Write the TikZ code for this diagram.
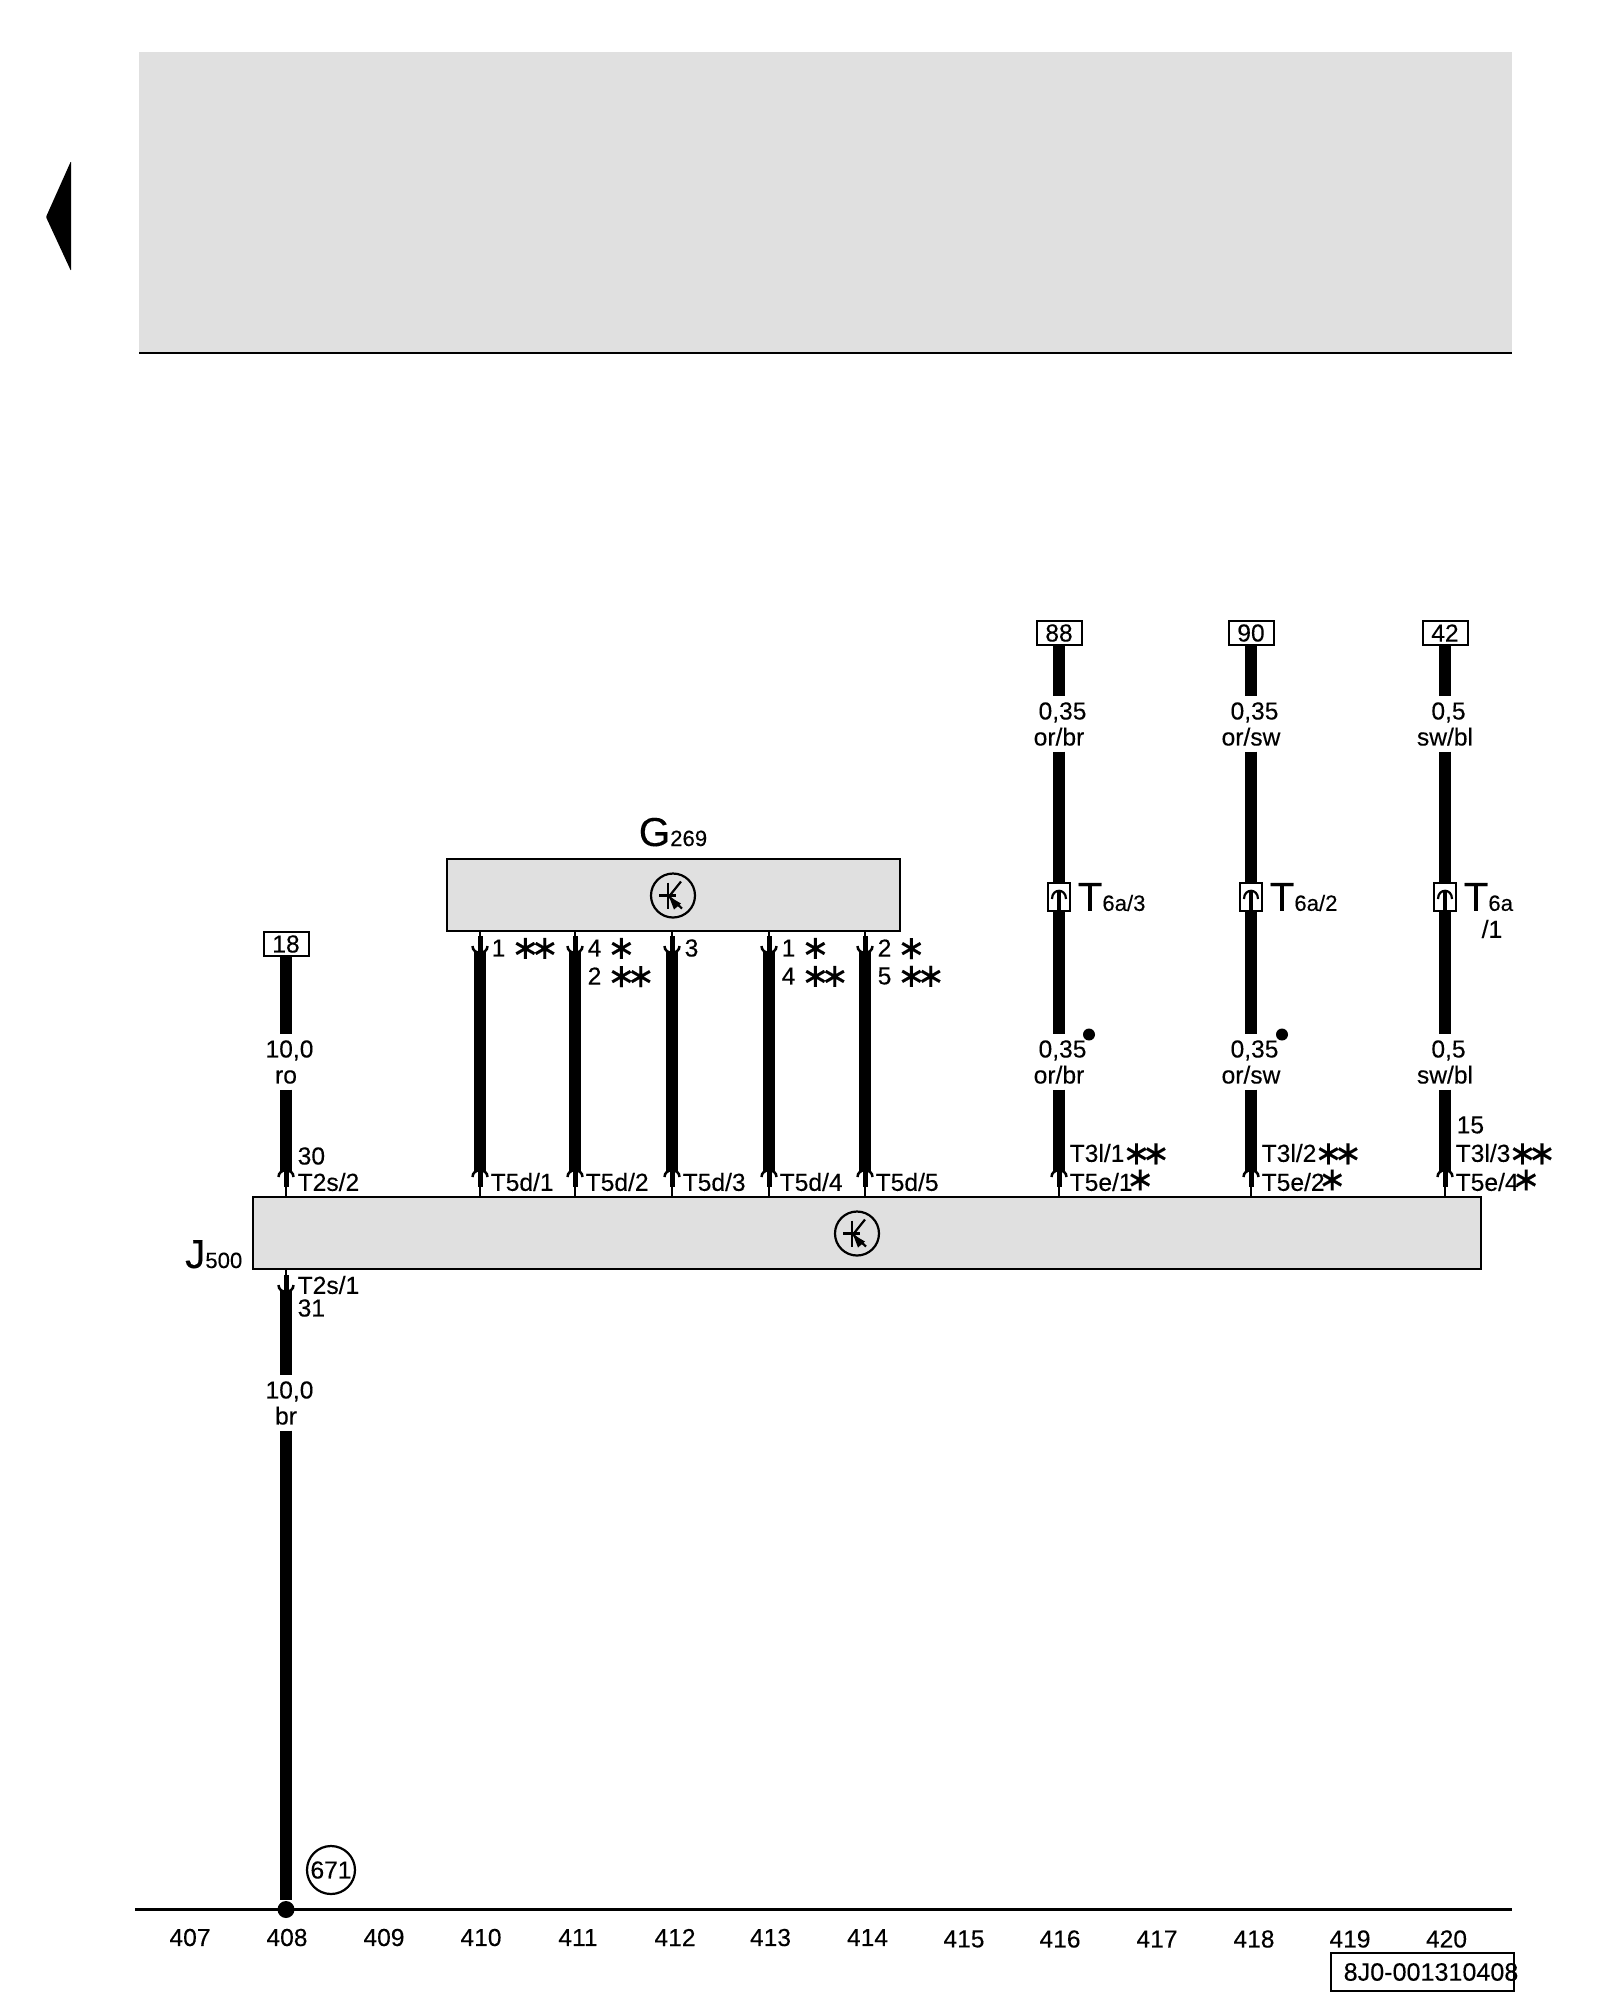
\documentclass[tikz,border=0pt]{standalone}
\usepackage{fontspec}
\setmainfont{Liberation Sans}[FakeBold=0.2]
\newfontfamily\starfont{DejaVu Sans}[FakeBold=0.2]
\usetikzlibrary{calc}
\newcommand{\bigname}[2]{{\fontsize{11.5}{12}\selectfont #1}{\fontsize{6.3}{8}\selectfont #2}}
\newcommand{\stars}{\smash{\raisebox{-0.7pt}{\makebox[5.5pt]{\starfont\fontsize{9.5}{10}\selectfont ∗}}}}
\tikzstyle{lbl}=[font=\fontsize{7}{7.4}\selectfont, inner sep=0pt, anchor=west]
\tikzstyle{gauge}=[font=\fontsize{7}{7.4}\selectfont, inner sep=0pt, align=center, minimum height=5.4mm]
\tikzstyle{colnum}=[font=\fontsize{7}{8}\selectfont, inner sep=0pt]
\tikzstyle{part}=[draw, fill=black!12, line width=0.2mm, inner sep=0pt]
\tikzstyle{term}=[draw, line width=0.2mm, font=\fontsize{7}{8}\selectfont, inner sep=0pt, minimum width=4.5mm, minimum height=2.4mm]
\tikzstyle{plug}=[draw, fill=white, line width=0.2mm, inner sep=0pt, minimum width=2.2mm, minimum height=2.8mm]
\tikzstyle{wire}=[line width=1.25mm]
\tikzstyle{lead}=[line width=0.22mm]
\tikzstyle{symcircle}=[draw, circle, line width=0.22mm, inner sep=0pt, minimum size=4.4mm]
\tikzset{
  pinup/.pic={
    \draw[line width=0.25mm] (-7.5,6) .. controls (-7.5,-3) and (7.5,-3) .. (7.5,6);
    \draw[line width=0.5mm] (0,0) -- (0,16);
  },
  pindown/.pic={
    \draw[line width=0.25mm] (-7.5,-6) .. controls (-7.5,3) and (7.5,3) .. (7.5,-6);
    \draw[line width=0.5mm] (0,0) -- (0,-16);
  },
  plugmark/.pic={
    \draw[lead] (-7,2) .. controls (-7,-9) and (7,-9) .. (7,2);
    \draw[line width=0.35mm] (0,-5) -- (0,14);
  },
  sensmark/.pic={
    \draw[lead] (-14,0) -- (3,0);
    \draw[lead] (-5,-13) -- (-5,13);
    \draw[lead] (-4,1) -- (8,-14);
    \draw[lead] (-4,1) -- (9,13);
    \fill (-4,1) -- (8,8) -- (1,14) -- cycle;
  }
}
\begin{document}
\begin{tikzpicture}[x=0.1mm,y=-0.1mm]
\useasboundingbox (0,0) rectangle (1600,2000);
% header
\fill[black!12] (139,52) rectangle (1512,353);
\coordinate (HeadL) at (139,353);
\coordinate (HeadR) at (1512,353);
\draw[lead] (HeadL) -- (HeadR);
\fill[rounded corners=0.3pt] (46,217) -- (71,161) -- (71,271) -- cycle;
% parts
\node[part, minimum width=45.3mm, minimum height=7.25mm] at (673,895) (G269) {};
\node[part, minimum width=122.8mm, minimum height=7.25mm] at (867,1233) (J500) {};
\node[symcircle] at (673,895.5) (SymG) {};
\node[symcircle] at (857,1233.5) (SymJ) {};
\pic at (SymG) {sensmark};
\pic at (SymJ) {sensmark};
\node[inner sep=0pt, anchor=base] at (673,846) (NameG) {\bigname{G}{269}};
\node[inner sep=0pt, anchor=base east] at (243,1268) (NameJ) {\bigname{J}{500}};
% terminals
\node[term] at (286,944) (Term18) {18};
\node[term] at (1059,633) (Term88) {88};
\node[term] at (1251,633) (Term90) {90};
\node[term] at (1445,633) (Term42) {42};
% gauges
\node[gauge] at (286,1062) (Ga18) {\hspace*{2pt}10,0\\ro};
\node[gauge] at (286,1403) (Ga31) {\hspace*{2pt}10,0\\br};
\node[gauge] at (1059,724) (Ga88a) {\hspace*{2pt}0,35\\or/br};
\node[gauge] at (1059,1062) (Ga88b) {\hspace*{2pt}0,35\\or/br};
\node[gauge] at (1251,724) (Ga90a) {\hspace*{2pt}0,35\\or/sw};
\node[gauge] at (1251,1062) (Ga90b) {\hspace*{2pt}0,35\\or/sw};
\node[gauge] at (1445,724) (Ga42a) {\hspace*{2pt}0,5\\sw/bl};
\node[gauge] at (1445,1062) (Ga42b) {\hspace*{2pt}0,5\\sw/bl};
% plugs
\node[plug] at (1059,897) (Plug3) {};
\node[plug] at (1251,897) (Plug2) {};
\node[plug] at (1445,897) (Plug1) {};
% pins
\coordinate (UpA) at (286,1171);
\coordinate (Up1) at (480,1171);
\coordinate (Up2) at (575,1171);
\coordinate (Up3) at (672,1171);
\coordinate (Up4) at (769,1171);
\coordinate (Up5) at (865,1171);
\coordinate (Up88) at (1059,1171);
\coordinate (Up90) at (1251,1171);
\coordinate (Up42) at (1445,1171);
\coordinate (Dn1) at (480,952);
\coordinate (Dn2) at (575,952);
\coordinate (Dn3) at (672,952);
\coordinate (Dn4) at (769,952);
\coordinate (Dn5) at (865,952);
\coordinate (DnA) at (286,1291);
\node[circle, fill, inner sep=0pt, minimum size=1.7mm] at (286,1909.5) (Earth) {};
\node[draw, circle, line width=0.22mm, inner sep=0pt, minimum size=4.8mm, font=\fontsize{7}{8}\selectfont] at (331,1870) (Num671) {671};
% wires
\draw[wire] (Term18) -- (Ga18);
\draw[wire] (Ga18) -- (UpA);
\draw[wire] (DnA) -- (Ga31);
\draw[wire] (Ga31) -- (Earth);
\draw[wire] (Dn1) -- (Up1);
\draw[wire] (Dn2) -- (Up2);
\draw[wire] (Dn3) -- (Up3);
\draw[wire] (Dn4) -- (Up4);
\draw[wire] (Dn5) -- (Up5);
\draw[wire] (Term88) -- (Ga88a);
\draw[wire] (Ga88a) -- (Plug3);
\draw[wire] (Plug3) -- (Ga88b);
\draw[wire] (Ga88b) -- (Up88);
\draw[wire] (Term90) -- (Ga90a);
\draw[wire] (Ga90a) -- (Plug2);
\draw[wire] (Plug2) -- (Ga90b);
\draw[wire] (Ga90b) -- (Up90);
\draw[wire] (Term42) -- (Ga42a);
\draw[wire] (Ga42a) -- (Plug1);
\draw[wire] (Plug1) -- (Ga42b);
\draw[wire] (Ga42b) -- (Up42);
\pic at (Plug3) {plugmark};
\pic at (Plug2) {plugmark};
\pic at (Plug1) {plugmark};
\pic at (UpA) {pinup};
\pic at (Up1) {pinup};
\pic at (Up2) {pinup};
\pic at (Up3) {pinup};
\pic at (Up4) {pinup};
\pic at (Up5) {pinup};
\pic at (Up88) {pinup};
\pic at (Up90) {pinup};
\pic at (Up42) {pinup};
\pic at (Dn1) {pindown};
\pic at (Dn2) {pindown};
\pic at (Dn3) {pindown};
\pic at (Dn4) {pindown};
\pic at (Dn5) {pindown};
\pic at (DnA) {pindown};
\draw[lead] (UpA) -- (UpA |- J500.north);
\draw[lead] (Up1) -- (Up1 |- J500.north);
\draw[lead] (Up2) -- (Up2 |- J500.north);
\draw[lead] (Up3) -- (Up3 |- J500.north);
\draw[lead] (Up4) -- (Up4 |- J500.north);
\draw[lead] (Up5) -- (Up5 |- J500.north);
\draw[lead] (Up88) -- (Up88 |- J500.north);
\draw[lead] (Up90) -- (Up90 |- J500.north);
\draw[lead] (Up42) -- (Up42 |- J500.north);
\draw[lead] (Dn1) -- (Dn1 |- G269.south);
\draw[lead] (Dn2) -- (Dn2 |- G269.south);
\draw[lead] (Dn3) -- (Dn3 |- G269.south);
\draw[lead] (Dn4) -- (Dn4 |- G269.south);
\draw[lead] (Dn5) -- (Dn5 |- G269.south);
\draw[lead] (DnA) -- (DnA |- J500.south);
% dots
\node[circle, fill, inner sep=0pt, minimum size=1.2mm] at (1089,1034.5) (Dot88) {};
\node[circle, fill, inner sep=0pt, minimum size=1.2mm] at (1282,1034.5) (Dot90) {};
% plug labels
\node[lbl] at ($(Plug3)+(18,0)$) (LabP3) {\bigname{T}{6a/3}};
\node[lbl] at ($(Plug2)+(18,0)$) (LabP2) {\bigname{T}{6a/2}};
\node[lbl] at ($(Plug1)+(18,0)$) (LabP1) {\bigname{T}{6a}};
\node[lbl] at ($(Plug1)+(36,32)$) (LabP1b) {/1};
% lower pin labels
\node[lbl] at ($(UpA)+(11,11)$) (LabA) {T2s/2};
\node[lbl] at ($(UpA)+(11,-15)$) (LabA30) {30};
\node[lbl] at ($(DnA)+(11,-6)$) (LabB) {T2s/1};
\node[lbl] at ($(DnA)+(11,17)$) (LabB31) {31};
\node[lbl] at ($(Up1)+(10,11)$) (LabU1) {T5d/1};
\node[lbl] at ($(Up2)+(10,11)$) (LabU2) {T5d/2};
\node[lbl] at ($(Up3)+(10,11)$) (LabU3) {T5d/3};
\node[lbl] at ($(Up4)+(10,11)$) (LabU4) {T5d/4};
\node[lbl] at ($(Up5)+(10,11)$) (LabU5) {T5d/5};
\node[lbl] at ($(Up88)+(10,11)$) (LabE1) {T5e/1\kern-0.6pt\raisebox{0.8pt}{\stars}};
\node[lbl] at ($(Up90)+(10,11)$) (LabE2) {T5e/2\kern-0.6pt\raisebox{0.8pt}{\stars}};
\node[lbl] at ($(Up42)+(10,11)$) (LabE4) {T5e/4\kern-0.6pt\raisebox{0.8pt}{\stars}};
\node[lbl] at ($(Up88)+(10,-18)$) (LabL1) {T3l/1\kern0.7pt\stars\stars};
\node[lbl] at ($(Up90)+(10,-18)$) (LabL2) {T3l/2\kern0.7pt\stars\stars};
\node[lbl] at ($(Up42)+(10,-18)$) (LabL3) {T3l/3\kern0.7pt\stars\stars};
\node[lbl] at ($(Up42)+(11,-46)$) (Lab15) {15};
% upper pin labels
\node[lbl] at ($(Dn1)+(11,-4)$) (LabD1) {1 \kern1pt\stars\stars};
\node[lbl] at ($(Dn2)+(12,-4)$) (LabD2) {4 \kern1pt\stars};
\node[lbl] at ($(Dn2)+(12,24)$) (LabD2b) {2 \kern1pt\stars\stars};
\node[lbl] at ($(Dn3)+(12,-4)$) (LabD3) {3};
\node[lbl] at ($(Dn4)+(12,-4)$) (LabD4) {1 \kern1pt\stars};
\node[lbl] at ($(Dn4)+(12,24)$) (LabD4b) {4 \kern1pt\stars\stars};
\node[lbl] at ($(Dn5)+(12,-4)$) (LabD5) {2 \kern1pt\stars};
\node[lbl] at ($(Dn5)+(12,24)$) (LabD5b) {5 \kern1pt\stars\stars};
% base line
\coordinate (BaseL) at (135,1909.5);
\coordinate (BaseR) at (1512,1909.5);
\draw[lead] (BaseL) -- (BaseR);
\node[colnum] at (190,1937.5) (Col407) {407};
\node[colnum] at (287,1937.5) (Col408) {408};
\node[colnum] at (384,1937.5) (Col409) {409};
\node[colnum] at (481,1937.5) (Col410) {410};
\node[colnum] at (578,1937.5) (Col411) {411};
\node[colnum] at (675,1937.5) (Col412) {412};
\node[colnum] at (770.5,1937.5) (Col413) {413};
\node[colnum] at (867.5,1937.5) (Col414) {414};
\node[colnum] at (964,1939) (Col415) {415};
\node[colnum] at (1060,1939) (Col416) {416};
\node[colnum] at (1157,1939) (Col417) {417};
\node[colnum] at (1254,1939) (Col418) {418};
\node[colnum] at (1350,1939) (Col419) {419};
\node[colnum] at (1446.5,1939) (Col420) {420};
\node[draw, line width=0.22mm, minimum width=18.35mm, minimum height=3.8mm, inner sep=0pt] at (1422.5,1972) (Code) {};
\node[lbl, font=\fontsize{7.15}{8}\selectfont] at (1343,1972) (CodeText) {8J0-001310408};
\end{tikzpicture}
\end{document}
